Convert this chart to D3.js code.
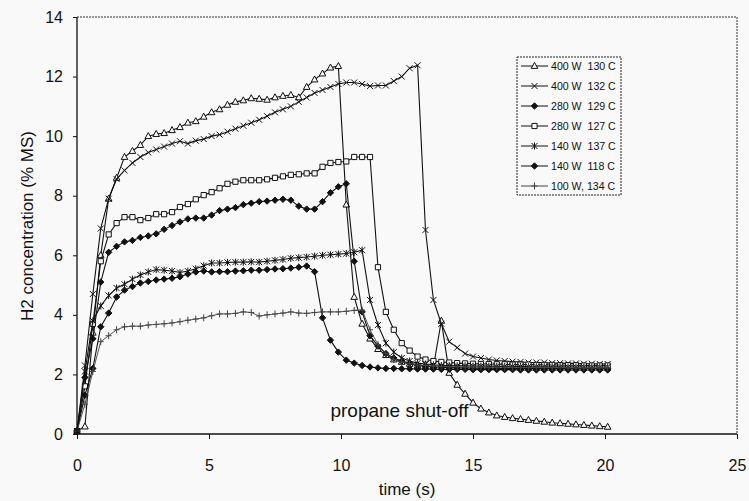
<!DOCTYPE html>
<html><head><meta charset="utf-8">
<script src="https://cdn.jsdelivr.net/npm/d3@7/dist/d3.min.js"></script>
<style>
html,body{margin:0;padding:0;background:#f9f9f9;}
svg{display:block;font-family:"Liberation Sans",Arial,sans-serif;}
</style></head><body>
<svg id="chart" width="749" height="501"></svg>
<script>
const times = [0,0.3,0.6,0.9,1.2,1.5,1.8,2.1,2.4,2.7,3,3.3,3.6,3.9,4.2,4.5,4.8,5.1,5.4,5.7,6,6.3,6.6,6.9,7.2,7.5,7.8,8.1,8.4,8.7,9,9.3,9.6,9.9,10.2,10.5,10.8,11.1,11.4,11.7,12,12.3,12.6,12.9,13.2,13.5,13.8,14.1,14.4,14.7,15,15.3,15.6,15.9,16.2,16.5,16.8,17.1,17.4,17.7,18,18.3,18.6,18.9,19.2,19.5,19.8,20.1];

const w400_130 = [0.1,0.25,3.4,6.0,7.9,8.6,9.3,9.5,9.7,10.0,
  10.07,10.1,10.2,10.3,10.45,10.5,10.65,10.8,10.9,11.05,
  11.15,11.2,11.27,11.25,11.22,11.3,11.35,11.38,11.3,11.65,
  11.9,12.1,12.3,12.35,7.7,4.6,3.7,3.2,2.85,2.65,
  2.5,2.42,2.35,2.3,2.28,2.25,3.8,2.05,1.65,1.35,
  1.05,0.85,0.72,0.62,0.57,0.53,0.5,0.47,0.44,0.41,
  0.38,0.36,0.34,0.32,0.3,0.28,0.26,0.24];
const w400_132 = [0.1,2.3,4.7,6.9,7.9,8.56,8.85,9.1,9.3,9.45,
  9.55,9.65,9.75,9.83,9.75,9.85,9.9,10.0,10.05,10.15,
  10.25,10.35,10.45,10.55,10.67,10.8,10.9,11.0,11.15,11.3,
  11.45,11.55,11.65,11.75,11.8,11.8,11.75,11.68,11.7,11.7,
  11.85,12.0,12.28,12.38,6.85,4.5,3.7,3.1,2.9,2.7,
  2.6,2.55,2.5,2.47,2.45,2.43,2.42,2.4,2.4,2.4,
  2.38,2.38,2.37,2.37,2.36,2.36,2.35,2.35];
const w280_129 = [0.1,1.9,3.2,5.1,6.1,6.3,6.45,6.5,6.6,6.65,
  6.72,6.87,7.0,7.12,7.22,7.25,7.25,7.35,7.5,7.55,
  7.6,7.7,7.75,7.8,7.82,7.85,7.88,7.85,7.65,7.55,
  7.55,7.8,8.1,8.3,8.4,5.8,4.1,3.3,2.95,2.7,
  2.55,2.45,2.38,2.32,2.28,2.25,2.24,2.23,2.22,2.22,
  2.21,2.21,2.21,2.2,2.2,2.2,2.2,2.2,2.2,2.2,
  2.2,2.2,2.2,2.2,2.2,2.2,2.2,2.2];
const w280_127 = [0.1,1.6,3.7,5.8,6.7,7.08,7.28,7.28,7.18,7.25,
  7.38,7.38,7.45,7.62,7.72,7.88,8.02,8.12,8.25,8.4,
  8.47,8.52,8.52,8.52,8.55,8.6,8.65,8.7,8.72,8.75,
  8.75,8.97,9.1,9.13,9.15,9.3,9.3,9.3,5.6,4.1,
  3.5,3.05,2.8,2.6,2.5,2.45,2.42,2.4,2.38,2.37,
  2.36,2.35,2.35,2.34,2.34,2.33,2.33,2.33,2.32,2.32,
  2.32,2.31,2.31,2.31,2.3,2.3,2.3,2.3];
const w140_137 = [0.1,2.1,3.8,4.3,4.65,4.9,5.03,5.2,5.34,5.44,
  5.52,5.5,5.47,5.42,5.47,5.55,5.65,5.74,5.74,5.76,
  5.77,5.77,5.78,5.77,5.8,5.83,5.86,5.9,5.92,5.94,
  5.97,6.0,6.02,6.04,6.06,6.1,6.17,4.5,3.66,3.05,
  2.75,2.55,2.45,2.38,2.35,2.32,2.3,2.3,2.29,2.29,
  2.28,2.28,2.28,2.27,2.27,2.27,2.27,2.26,2.26,2.26,
  2.26,2.26,2.25,2.25,2.25,2.25,2.25,2.25];
const w140_118 = [0.1,1.3,2.2,3.6,4.06,4.6,4.83,4.95,5.07,5.12,
  5.17,5.2,5.23,5.28,5.37,5.44,5.47,5.44,5.45,5.45,
  5.47,5.48,5.5,5.5,5.52,5.54,5.55,5.57,5.6,5.64,
  5.45,3.9,3.15,2.75,2.48,2.38,2.3,2.25,2.22,2.2,
  2.2,2.19,2.19,2.18,2.18,2.18,2.17,2.17,2.17,2.17,
  2.16,2.16,2.16,2.16,2.16,2.16,2.15,2.15,2.15,2.15,
  2.15,2.15,2.15,2.15,2.15,2.15,2.15,2.15];
const w100_134 = [0.1,1.0,2.1,3.1,3.3,3.5,3.6,3.62,3.62,3.66,
  3.68,3.7,3.73,3.77,3.82,3.86,3.9,3.97,4.03,4.03,
  4.05,4.1,4.08,3.96,4.0,4.03,4.06,4.1,4.06,4.05,
  4.08,4.1,4.1,4.1,4.12,4.15,4.16,3.5,3.0,2.7,
  2.5,2.42,2.36,2.32,2.3,2.28,2.27,2.26,2.26,2.25,
  2.25,2.25,2.24,2.24,2.24,2.24,2.23,2.23,2.23,2.23,
  2.23,2.23,2.22,2.22,2.22,2.22,2.22,2.22];

const seriesLabels = ["400 W  130 C","400 W  132 C","280 W  129 C","280 W  127 C","140 W  137 C","140 W  118 C","100 W, 134 C"];
const seriesValues = [w400_130, w400_132, w280_129, w280_127, w140_137, w140_118, w100_134];
const seriesMarkers = ["triangle","x","diamond","square","star","diamond","plus"];
const yTicks = [0,2,4,6,8,10,12,14];
const xTicks = [0,5,10,15,20,25];
const annotation = "propane shut-off";

const svg = d3.select("#chart");
const x = d3.scaleLinear().domain([0,25]).range([77,737]);
const y = d3.scaleLinear().domain([0,14]).range([434,17]);

// frame
svg.append("line").attr("x1",77).attr("x2",737).attr("y1",17).attr("y2",17)
  .attr("stroke","#333").attr("stroke-width",1).attr("stroke-dasharray","2,1");
svg.append("line").attr("x1",737).attr("x2",737).attr("y1",17).attr("y2",434)
  .attr("stroke","#333").attr("stroke-width",1).attr("stroke-dasharray","2,1");

const markerPath = {
  triangle: "M0,-3.6L3.3,2.4L-3.3,2.4Z",
  x: "M-3,-3L3,3M-3,3L3,-3",
  diamond: "M0,-3.2L3.2,0L0,3.2L-3.2,0Z",
  square: "M-2.6,-2.6H2.6V2.6H-2.6Z",
  star: "M-3,-3L3,3M-3,3L3,-3M0,-3.5L0,3.5",
  plus: "M-3,0L3,0M0,-3.5L0,3.5"
};
function drawMarker(g, type, color){
  const p = g.append("path").attr("d", markerPath[type]).attr("stroke", color).attr("stroke-width",1);
  if (type==="diamond") p.attr("fill", color);
  else if (type==="triangle"||type==="square") p.attr("fill","#f9f9f9");
  else p.attr("fill","none");
}

const line = d3.line().x(d=>x(d[0])).y(d=>y(d[1]));
const plot = svg.append("g");
seriesValues.forEach((vals,i)=>{
  const pts = times.map((t,j)=>[t, vals[j]]);
  const color = seriesMarkers[i]==="plus" ? "#444" : "#111";
  plot.append("path").datum(pts).attr("d", line).attr("fill","none")
    .attr("stroke", color).attr("stroke-width", seriesMarkers[i]==="plus"?0.9:1.1);
  const mg = plot.append("g");
  pts.forEach(p=>{
    const g = mg.append("g").attr("transform",`translate(${x(p[0])},${y(p[1])})`);
    drawMarker(g, seriesMarkers[i], color);
  });
});

// axes
const yAxis = svg.append("g").attr("transform","translate(77,0)")
  .call(d3.axisLeft(y).tickValues(yTicks).tickSize(4).tickPadding(10).tickFormat(d3.format("d")));
const xAxis = svg.append("g").attr("transform","translate(0,434)")
  .call(d3.axisBottom(x).tickValues(xTicks).tickSize(5).tickPadding(21).tickFormat(d3.format("d")));
[yAxis,xAxis].forEach(a=>{
  a.select(".domain").attr("stroke","#111").attr("stroke-width",1.3);
  a.selectAll(".tick line").attr("stroke","#111");
  a.selectAll("text").attr("font-size",16).attr("fill","#111")
    .attr("font-family","'Liberation Sans',Arial,sans-serif");
});
yAxis.select(".domain").attr("d","M0,17V434");
xAxis.select(".domain").attr("d","M77,0H737");

svg.append("text").attr("x",407).attr("y",495).attr("text-anchor","middle")
  .attr("font-size",17).attr("fill","#111").text("time (s)");
svg.append("text").attr("transform","translate(33,226) rotate(-90)").attr("text-anchor","middle")
  .attr("font-size",17).attr("fill","#111").text("H2 concentration (% MS)");

svg.append("text").attr("x",x(9.6)).attr("y",y(0.58)).attr("font-size",19)
  .attr("fill","#111").text(annotation);

// legend
const lg = svg.append("g");
lg.append("rect").attr("x",517).attr("y",57).attr("width",104).attr("height",138)
  .attr("fill","#f9f9f9").attr("stroke","#222").attr("stroke-width",1).attr("stroke-dasharray","2,1");
seriesLabels.forEach((lab,i)=>{
  const cy = 66 + i*20;
  const color = seriesMarkers[i]==="plus" ? "#444" : "#111";
  lg.append("line").attr("x1",521).attr("x2",548).attr("y1",cy).attr("y2",cy)
    .attr("stroke",color).attr("stroke-width",1);
  const g = lg.append("g").attr("transform",`translate(534.5,${cy})`);
  drawMarker(g, seriesMarkers[i], color);
  lg.append("text").attr("x",551).attr("y",cy+4).attr("font-size",10.6).attr("fill","#111")
    .style("white-space","pre").text(lab);
});
</script>
</body></html>
